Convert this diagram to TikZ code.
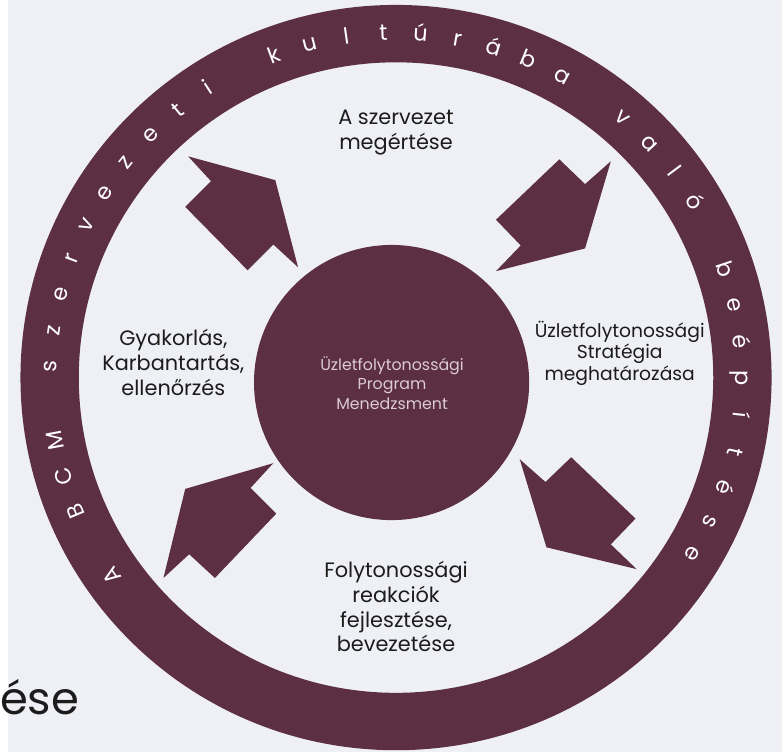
\documentclass[tikz,border=0pt]{standalone}
\usepackage{fontspec}
\setmainfont{Poppins}
\definecolor{bcm}{HTML}{5C2F43}
\definecolor{paper}{HTML}{EFF0F5}
\definecolor{ink}{HTML}{1C1C1C}
\definecolor{pale}{HTML}{DCCBD3}
\newcommand{\lbl}{\fontsize{15.8}{18.75}\selectfont}
\newcommand{\rlbl}{\fontsize{14.2}{16.5}\selectfont}
\newcommand{\sml}{\fontsize{12}{14.6}\selectfont}
\newcommand{\ringf}{\fontsize{17}{20}\selectfont}

\begin{document}
\begin{tikzpicture}[x=0.75pt,y=-0.75pt,
    lbl/.style={align=center,text=ink,font=\lbl,inner sep=0pt},
    ringch/.style={text=white,font=\ringf,anchor=base,inner sep=0pt}]
       \fill[paper] (0,0) rectangle (782,760);
       \node[anchor=base east,text=ink,font=\fontsize{34}{40}\selectfont,inner sep=0pt] (tail) at (72,722) {ése};
       % ring and hub
       \fill[bcm,even odd rule] (392,381.5) ellipse[x radius=284.6pt,y radius=282.4pt]
                                (392,381.5) ellipse[x radius=240.4pt,y radius=238.9pt];
       \fill[bcm] (387.5,386.5) circle[radius=104.25pt];
       % arrows, clockwise
       \fill[bcm] (293,270) -- (270,182) -- (182,158) -- (205,183) -- (179,209) -- (242,273) -- (268,247) -- cycle;
       \fill[bcm] (493,274) -- (518,248) -- (493,222) -- (557,161) -- (583,186) -- (609,163) -- (583,251) -- cycle;
       \fill[bcm] (517,464) -- (543,487) -- (569,462) -- (634,524) -- (609,550) -- (635,575) -- (544,553) -- cycle;
       \fill[bcm] (268,468) -- (245,493) -- (271,519) -- (209,584) -- (183,560) -- (157,584) -- (179,494) -- cycle;
       % labels
       \node[lbl] (megertes) at (392,134) {A szervezet\\megértése};
       \node[lbl,font=\rlbl] (strategia) at (618,357) {Üzletfolytonossági\\Stratégia\\meghatározása};
       \node[lbl] (reakciok) at (392,613) {Folytonossági\\reakciók\\fejlesztése,\\bevezetése};
       \node[lbl] (gyakorlas) at (167,366) {Gyakorlás,\\Karbantartás,\\ellenőrzés};
       \node[lbl,font=\sml,text=pale] (program) at (388,387) {Üzletfolytonossági\\Program\\Menedzsment};
       % ring text
       \foreach \i/\c in {0/A,2/B,3/C,4/M,6/s,7/z,8/e,9/r,10/v,11/e,12/z,13/e,14/t,15/i,
                          17/k,18/u,19/l,20/t,21/ú,22/r,23/á,24/b,25/a,27/v,28/a,29/l,30/ó,
                          32/b,33/e,34/é,35/p,36/í,37/t,38/é,39/s,40/e} {
         \pgfmathsetmacro{\a}{215.1-6.15*\i}
         \node[ringch,rotate=\a-90] (ch\i) at ({392+343*cos(\a)},{381.5-340.5*sin(\a)}) {\c};
       }
      \end{tikzpicture}
\end{document}
